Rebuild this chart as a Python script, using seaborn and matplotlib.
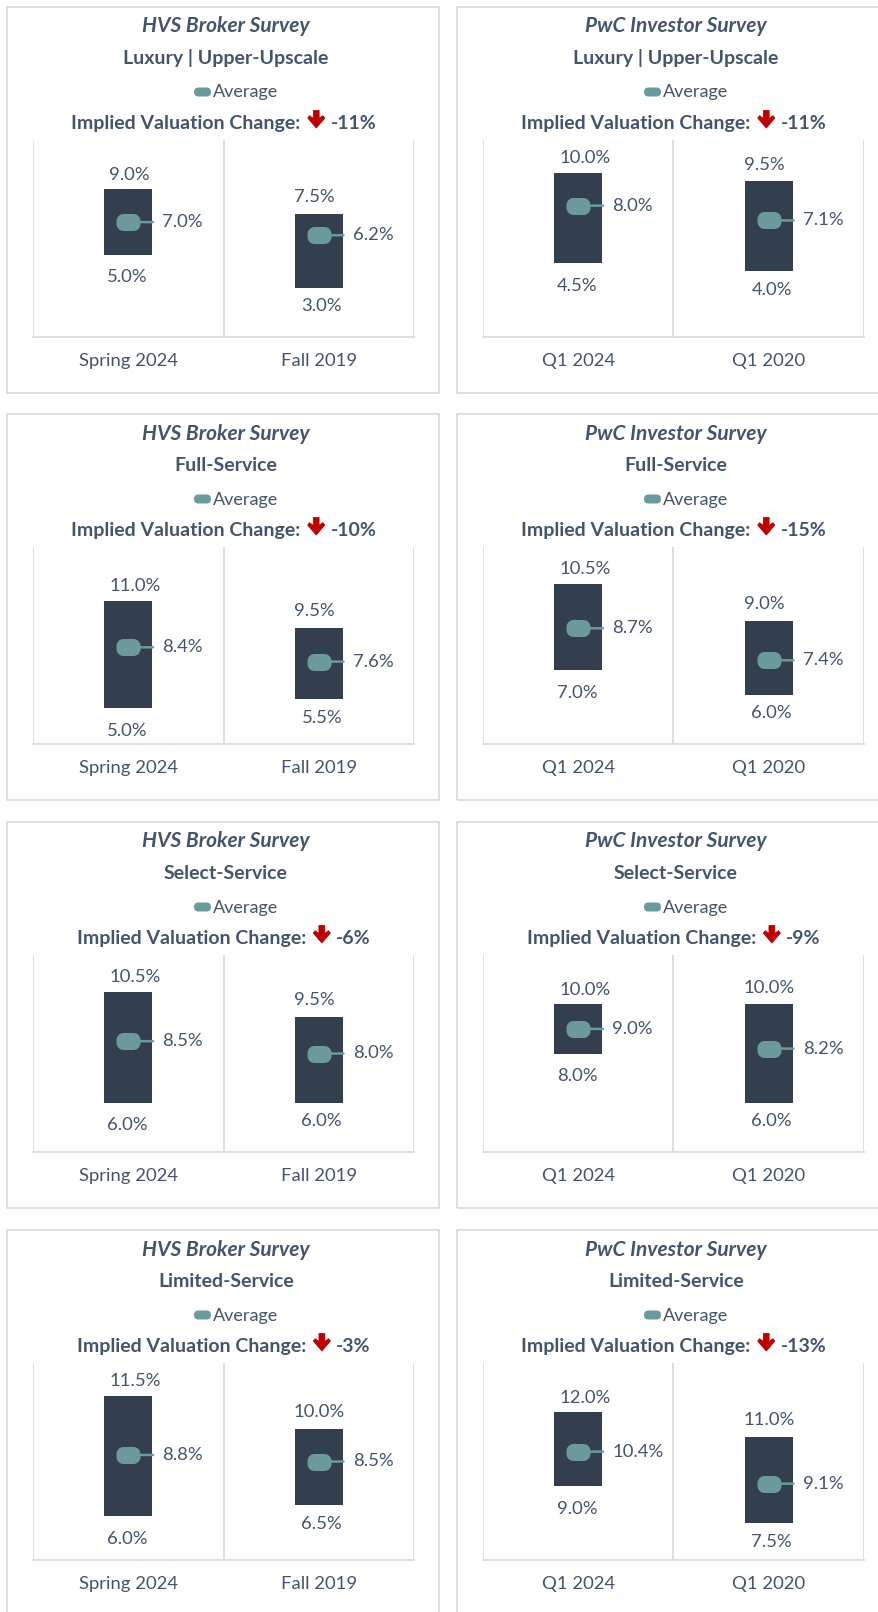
import numpy as np
import matplotlib
matplotlib.use("Agg")
import matplotlib.pyplot as plt
import matplotlib.transforms as mtransforms
from matplotlib.path import Path
from matplotlib.markers import MarkerStyle
from matplotlib.patches import Rectangle, FancyBboxPatch, Polygon
import seaborn as sns

# --- data ---
segments = ["Luxury | Upper-Upscale", "Full-Service", "Select-Service", "Limited-Service"]

hvs_title = "HVS Broker Survey"
hvs_periods = ["Spring 2024", "Fall 2019"]
hvs_high = [[9.0, 7.5], [11.0, 9.5], [10.5, 9.5], [11.5, 10.0]]
hvs_low = [[5.0, 3.0], [5.0, 5.5], [6.0, 6.0], [6.0, 6.5]]
hvs_avg = [[7.0, 6.2], [8.4, 7.6], [8.5, 8.0], [8.8, 8.5]]
hvs_change = [-11, -10, -6, -3]
hvs_ylim = [(0, 12), (3, 14), (4, 12), (4, 13)]

pwc_title = "PwC Investor Survey"
pwc_periods = ["Q1 2024", "Q1 2020"]
pwc_high = [[10.0, 9.5], [10.5, 9.0], [10.0, 10.0], [12.0, 11.0]]
pwc_low = [[4.5, 4.0], [7.0, 6.0], [8.0, 6.0], [9.0, 7.5]]
pwc_avg = [[8.0, 7.1], [8.7, 7.4], [9.0, 8.2], [10.4, 9.1]]
pwc_change = [-11, -15, -9, -13]
pwc_ylim = [(0, 12), (4, 12), (4, 12), (6, 14)]

# --- style ---
W, H, DPI = 879, 1612, 100
PT = 72 / DPI
TEXT = "#44546A"
BAR = "#333F4F"
TEAL = "#6A9A9B"
GRID = "#D9D9D9"
RED = "#C00000"
BAR_W = 0.25

COL_X = [7, 457]
ROW_Y = [7, 414, 822, 1230]
PANEL_W, PANEL_H = 432, 386

# label offsets (px) per category: top label, bottom label
TOP_DX, TOP_DY = [5, -1], [14.5, 16.5]
BOT_DX, BOT_DY = [2.5, 6.5], [-22.5, -18.5]

sns.set_theme(style="white")
plt.rcParams["font.family"] = ["Lato", "DejaVu Sans"]


def rounded_rect(w, h, r):
    k = 0.5523 * r
    a, b = w / 2, h / 2
    verts = [
        (-a + r, -b), (a - r, -b),
        (a - r + k, -b), (a, -b + r - k), (a, -b + r),
        (a, b - r),
        (a, b - r + k), (a - r + k, b), (a - r, b),
        (-a + r, b),
        (-a + r - k, b), (-a, b - r + k), (-a, b - r),
        (-a, -b + r),
        (-a, -b + r - k), (-a + r - k, -b), (-a + r, -b),
        (-a + r, -b),
    ]
    codes = [Path.MOVETO, Path.LINETO,
             Path.CURVE4, Path.CURVE4, Path.CURVE4,
             Path.LINETO,
             Path.CURVE4, Path.CURVE4, Path.CURVE4,
             Path.LINETO,
             Path.CURVE4, Path.CURVE4, Path.CURVE4,
             Path.LINETO,
             Path.CURVE4, Path.CURVE4, Path.CURVE4,
             Path.CLOSEPOLY]
    return Path(verts, codes)


AVG_MARKER = MarkerStyle(rounded_rect(24, 17, 7))
MARKER_S = (24 * PT) ** 2

fig = plt.figure(figsize=(W / DPI, H / DPI), dpi=DPI, facecolor="white")
renderer = fig.canvas.get_renderer()
ident = mtransforms.IdentityTransform()


def fx(x):
    return x / W


def fy(y):
    return 1 - y / H


def draw_panel(col, row, title, periods, high, low, avg, change, ylim):
    x0, y0 = COL_X[col], ROW_Y[row]

    fig.add_artist(Rectangle((x0, H - y0 - PANEL_H), PANEL_W, PANEL_H, transform=ident,
                             fill=False, edgecolor=GRID, lw=1.2))

    # headings
    cx = x0 + 219
    fig.text(fx(cx), fy(y0 + 25.5), title, ha="center", va="baseline", fontsize=15,
             fontweight="bold", fontstyle="italic", color=TEXT)
    fig.text(fx(cx), fy(y0 + 57), segments[row], ha="center", va="baseline", fontsize=14,
             fontweight="bold", color=TEXT)

    # legend
    lx, ly = x0 + 187, y0 + 85
    fig.add_artist(FancyBboxPatch((lx, H - ly - 4.5), 17, 9, transform=ident,
                                  boxstyle="round,pad=0,rounding_size=4.5",
                                  facecolor=TEAL, edgecolor="none"))
    fig.text(fx(x0 + 206), fy(y0 + 90.5), "Average", ha="left", va="baseline",
             fontsize=13, color=TEXT)

    # implied valuation change line
    base = y0 + 122
    t1 = fig.text(0, 0, "Implied Valuation Change:", ha="left", va="baseline",
                  fontsize=14, fontweight="bold", color=TEXT)
    t2 = fig.text(0, 0, f"{change}%", ha="left", va="baseline",
                  fontsize=14, fontweight="bold", color=TEXT)
    w1 = t1.get_window_extent(renderer).width
    w2 = t2.get_window_extent(renderer).width
    total = w1 + 7 + 17 + 6 + w2
    sx = x0 + 217 - total / 2
    t1.set_position((fx(sx), fy(base)))
    t2.set_position((fx(sx + w1 + 7 + 17 + 6), fy(base)))
    ax_l, top = sx + w1 + 7, base - 18.5
    shape = [(5.6, 0), (11.4, 0), (11.4, 8), (15.2, 5.2), (17, 7.6), (8.5, 17.5),
             (0, 7.6), (1.8, 5.2), (5.6, 8)]
    fig.add_artist(Polygon([(ax_l + px, H - (top + py)) for px, py in shape], closed=True,
                           transform=ident, facecolor=RED, edgecolor=RED, lw=0.6,
                           joinstyle="round"))

    # chart
    ax = fig.add_axes([fx(x0 + 26), fy(y0 + 330), 381 / W, 197 / H])
    ax.set_facecolor("none")
    spans = [h - l for h, l in zip(high, low)]
    sns.barplot(x=periods, y=spans, order=periods, bottom=low, width=BAR_W, color=BAR,
                saturation=1, linewidth=0, ax=ax, zorder=2)
    pos = np.arange(len(periods))
    sns.scatterplot(x=pos, y=avg, marker=AVG_MARKER, s=MARKER_S, color=TEAL, linewidth=0,
                    ax=ax, zorder=4, legend=False)

    for i in range(len(periods)):
        left = pos[i] - BAR_W / 2
        ax.annotate(f"{high[i]:.1f}%", xy=(left, high[i]),
                    xytext=(TOP_DX[i] * PT, TOP_DY[i] * PT), textcoords="offset points",
                    ha="left", va="center", fontsize=13.3, color=TEXT)
        ax.annotate(f"{low[i]:.1f}%", xy=(left, low[i]),
                    xytext=(BOT_DX[i] * PT, BOT_DY[i] * PT), textcoords="offset points",
                    ha="left", va="center", fontsize=13.3, color=TEXT)
        ax.annotate(f"{avg[i]:.1f}%", xy=(pos[i], avg[i]),
                    xytext=(34 * PT, 0), textcoords="offset points",
                    ha="left", va="center", fontsize=13.3, color=TEXT, zorder=3,
                    arrowprops=dict(arrowstyle="-", color=TEAL, lw=1.8,
                                    shrinkA=6 * PT, shrinkB=0, relpos=(0, 0.5)))

    ax.set_xlim(-0.5, 1.5)
    ax.set_ylim(*ylim)
    ax.set_yticks([])
    ax.set_xlabel("")
    ax.set_ylabel("")
    ax.set_xticks(pos, periods)
    ax.set_xticks([-0.5, 0.5, 1.5], minor=True)
    ax.tick_params(axis="x", which="major", length=0, pad=11.5, labelsize=13.3, labelcolor=TEXT)
    ax.tick_params(axis="x", which="minor", length=6, width=1.2, color=GRID, direction="out")
    ax.grid(which="minor", axis="x", color=GRID, lw=1.2)
    ax.grid(which="major", visible=False)
    for s in ["top", "left", "right"]:
        ax.spines[s].set_visible(False)
    ax.spines["bottom"].set_color(GRID)
    ax.spines["bottom"].set_linewidth(1.2)


for r in range(4):
    draw_panel(0, r, hvs_title, hvs_periods, hvs_high[r], hvs_low[r], hvs_avg[r],
               hvs_change[r], hvs_ylim[r])
    draw_panel(1, r, pwc_title, pwc_periods, pwc_high[r], pwc_low[r], pwc_avg[r],
               pwc_change[r], pwc_ylim[r])

fig.savefig("out.png", dpi=DPI, facecolor="white")
